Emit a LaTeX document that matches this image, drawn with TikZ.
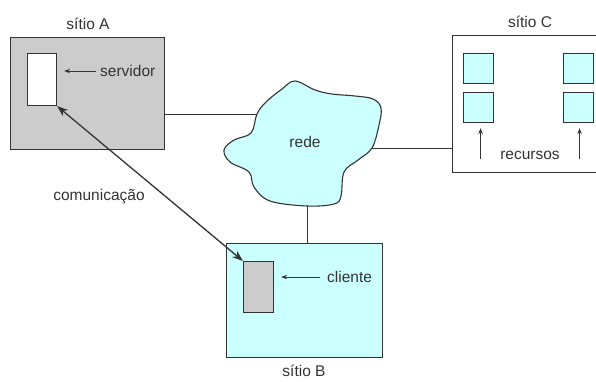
\documentclass[tikz,border=0pt]{standalone}
\usepackage{fontspec}
\setmainfont{Liberation Sans}
\usetikzlibrary{arrows.meta,calc}
\definecolor{boxgray}{HTML}{CCCCCC}
\definecolor{lcyan}{HTML}{CCFFFF}
\definecolor{ink}{HTML}{333333}
\begin{document}
\begin{tikzpicture}[x=1pt,y=-1pt,
  font=\fontsize{15.5}{18}\selectfont,
  box/.style={draw=ink,line width=1.1pt,inner sep=0pt,anchor=north west},
  lbl/.style={text=ink,inner sep=0pt},
  ptr/.style={draw=ink,line width=1pt,-{Stealth[length=6pt,width=4.5pt]}},
  comm/.style={draw=ink,line width=1.3pt,{Stealth[length=11pt,width=8pt]}-{Stealth[length=11pt,width=8pt]}},
  wire/.style={draw=ink,line width=1pt}]
\useasboundingbox (0,0) rectangle (596,381);
\clip (0,0) rectangle (596,381);
% site A
\node[box,fill=boxgray,minimum width=154pt,minimum height=112pt] (A) at (10,37) {};
\node[box,fill=white,minimum width=29pt,minimum height=52pt] (srv) at (27,53) {};
\node[lbl] (tA) at (88,24) {sítio A};
\node[lbl,anchor=west] (lsrv) at (100,71) {servidor};
\draw[ptr,shorten <=4pt,shorten >=7pt] (lsrv.west) -- (lsrv.west -| srv.east);
% site B
\node[box,fill=lcyan,minimum width=156pt,minimum height=114pt] (B) at (226,243) {};
\node[box,fill=boxgray,minimum width=30pt,minimum height=51pt] (cli) at (243,261) {};
\node[lbl] (tB) at (304,371) {sítio B};
\node[lbl,anchor=west] (lcli) at (327,277) {cliente};
\draw[ptr,shorten <=7pt,shorten >=7pt] (lcli.west) -- (lcli.west -| cli.east);
% site C
\node[box,fill=white,minimum width=170pt,minimum height=137pt] (C) at (452,35) {};
\node[lbl] (tC) at (530,22) {sítio C};
\node[box,fill=lcyan,minimum width=30pt,minimum height=30pt] (r1) at (463,53) {};
\node[box,fill=lcyan,minimum width=30pt,minimum height=30pt] (r2) at (463,92) {};
\node[box,fill=lcyan,minimum width=30pt,minimum height=30pt] (r3) at (563,53) {};
\node[box,fill=lcyan,minimum width=30pt,minimum height=30pt] (r4) at (563,92) {};
\node[lbl] (lrec) at (530,155) {recursos};
\coordinate (a1) at ($(r2.south)+(2,36)$);
\coordinate (a2) at ($(r4.south)+(1,36)$);
\draw[ptr,shorten >=5pt] (a1) -- (a1 |- r2.south);
\draw[ptr,shorten >=5pt] (a2) -- (a2 |- r4.south);
% network cloud
\coordinate (cl) at (257,114);
\coordinate (cr) at (372,148);
\coordinate (cb) at (307,206);
\draw[draw=ink,line width=1.1pt,fill=lcyan] plot[smooth cycle,tension=0.6] coordinates {
 (295,81) (315,90) (332,94) (355,96) (373,99) (381,108) (379,125) (372,148)
 (358,160) (344,172) (341,196) (334,204) (307,206) (270,201) (254,187) (249,172)
 (230,162) (224,150) (234,140) (251,133) (257,114) (266,102) (282,89)};
\node[lbl] (net) at (305,142) {rede};
% wires
\draw[wire] (cl -| A.east) -- (cl);
\draw[wire] (cr) -- (cr -| C.west);
\draw[wire] (cb) -- (cb |- B.north);
% communication
\draw[comm] (srv.south east) -- (cli.north west);
\node[lbl] (lcom) at (99,197) {comunicação};
\end{tikzpicture}
\end{document}
